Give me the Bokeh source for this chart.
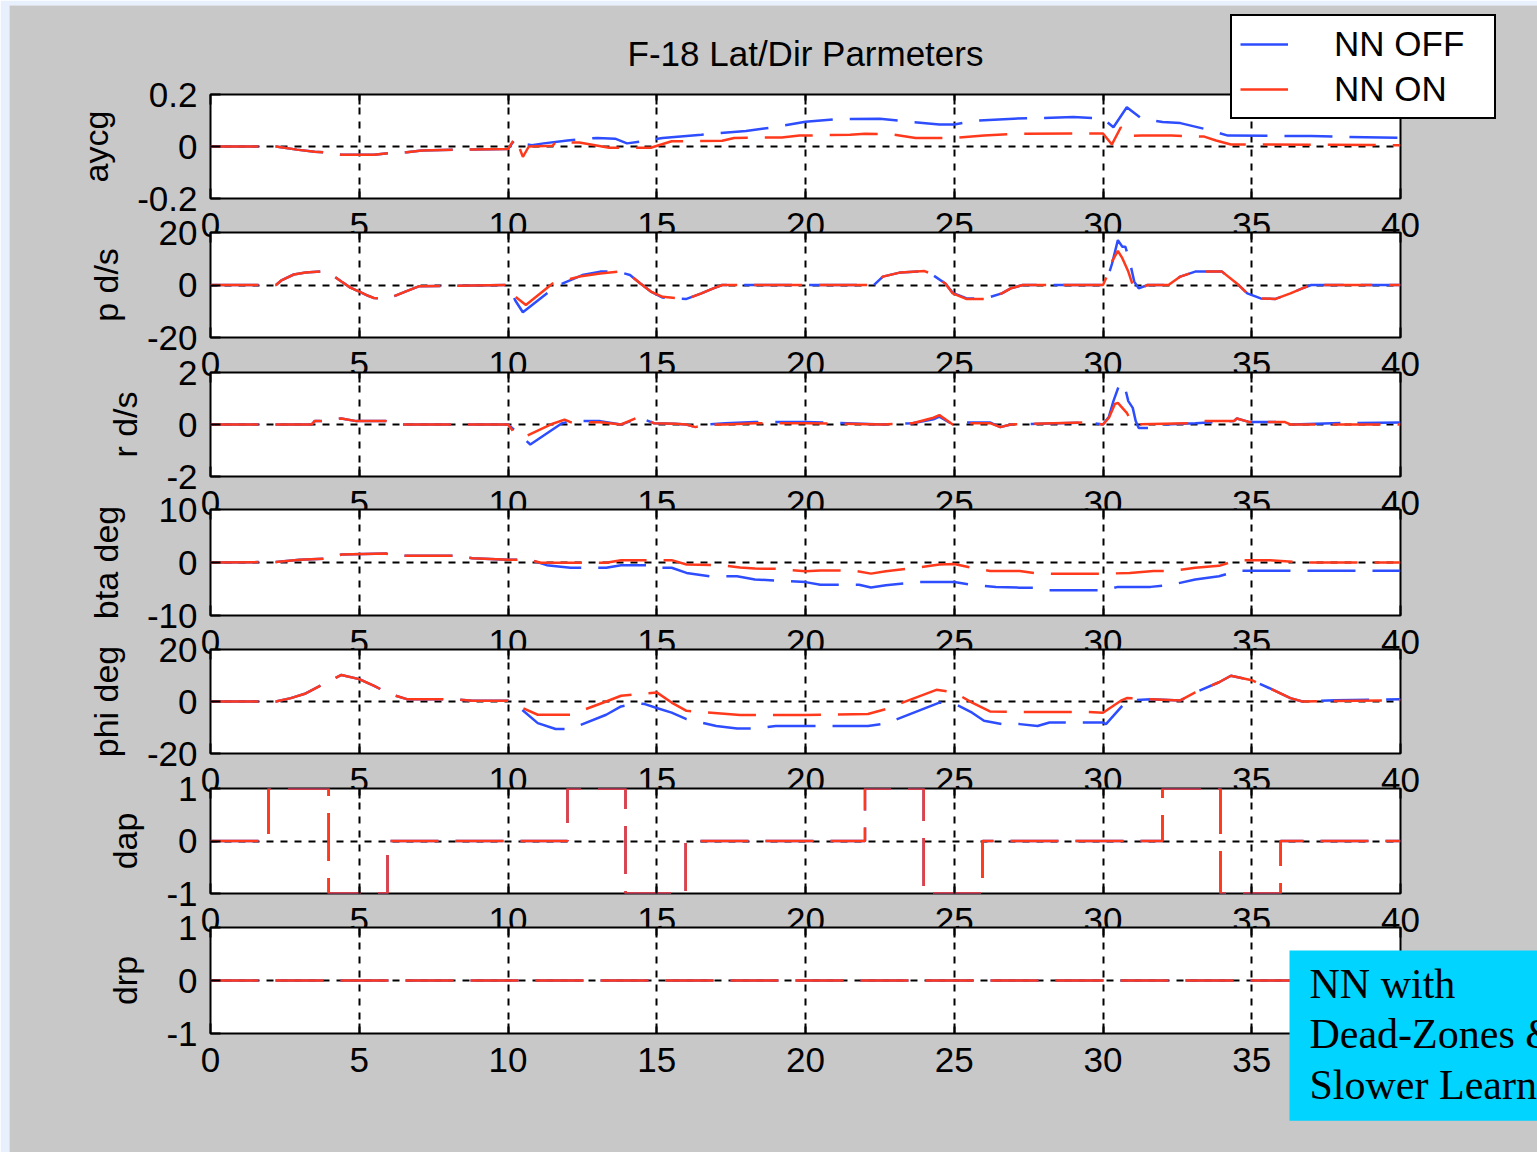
from bokeh.plotting import figure
from bokeh.models import Range1d, FixedTicker, LinearAxis, Legend, LegendItem, Label
from bokeh.layouts import column
from bokeh.embed import file_html
from bokeh.resources import INLINE

FONT = "Liberation Sans"
BLUE = "#2d4dff"
RED = "#ff3a1c"
GRAY = "#c8c8c8"
PAGE_W, PAGE_H = 1537, 1152

# ---------------- data ----------------
x_ticks = [0, 5, 10, 15, 20, 25, 30, 35, 40]
grid_ticks = [5, 10, 15, 20, 25, 30, 35]

# aycg
t_aycg_off = [0, 2.2, 2.9, 3.5, 3.8, 4.4, 5.5, 6.1, 6.6, 7.1, 8.2, 8.8, 10.0, 10.25, 10.5, 10.8, 11.2, 12.0, 13.0, 13.6, 14.0, 14.5, 15.2, 16.5, 18.0, 19.0, 20.0, 21.0, 22.5, 23.5, 24.5, 25.0, 25.8, 27.0, 29.0, 30.0, 30.35, 30.8, 31.3, 32.0, 32.6, 33.4, 34.2, 37.0, 40.0]
v_aycg_off = [0, 0, -0.012, -0.02, -0.022, -0.032, -0.032, -0.024, -0.022, -0.015, -0.012, -0.012, -0.01, 0.03, 0.01, 0.005, 0.012, 0.023, 0.033, 0.03, 0.012, 0.02, 0.033, 0.045, 0.06, 0.075, 0.095, 0.105, 0.107, 0.095, 0.085, 0.085, 0.1, 0.107, 0.113, 0.107, 0.074, 0.151, 0.107, 0.094, 0.09, 0.068, 0.042, 0.04, 0.033]
t_aycg_on = [0, 2.2, 2.9, 3.5, 3.8, 4.4, 5.5, 6.1, 6.6, 7.1, 8.2, 8.8, 10.0, 10.25, 10.5, 10.7, 11.5, 11.6, 12.4, 13.4, 14.8, 15.5, 17.2, 17.6, 19.2, 19.8, 21.5, 22.0, 22.9, 23.7, 25.0, 26.0, 27.0, 29.4, 30.0, 30.3, 30.6, 30.8, 31.3, 32.3, 33.4, 33.8, 34.3, 40.0]
v_aycg_on = [0, 0, -0.012, -0.02, -0.022, -0.032, -0.032, -0.024, -0.022, -0.015, -0.012, -0.012, -0.01, 0.036, -0.04, 0.0, 0.003, 0.017, 0.015, -0.005, -0.005, 0.02, 0.022, 0.033, 0.035, 0.042, 0.045, 0.049, 0.047, 0.033, 0.033, 0.042, 0.049, 0.05, 0.05, 0.008, 0.074, 0.04, 0.042, 0.042, 0.038, 0.023, 0.008, 0.005]

# p d/s
t_p_off = [0, 2.2, 2.4, 2.8, 3.2, 3.9, 4.4, 4.7, 5.0, 5.3, 5.5, 5.95, 6.55, 7.0, 10.0, 10.25, 10.5, 11.6, 12.5, 13.1, 13.7, 14.1, 14.45, 14.8, 15.2, 16.0, 16.5, 16.9, 17.2, 22.3, 22.6, 23.2, 24.0, 24.2, 24.7, 24.95, 25.4, 26.0, 26.6, 26.9, 27.3, 30.0, 30.15, 30.3, 30.5, 30.65, 30.75, 30.9, 31.05, 31.2, 31.5, 32.2, 32.6, 33.1, 34.0, 34.5, 34.85, 35.3, 35.8, 36.3, 36.7, 37.0, 40.0]
v_p_off = [0, 0, 1.9, 4.0, 4.8, 5.3, 1.3, -1.0, -2.5, -4.1, -5.0, -5.3, -2.5, -0.5, 0, -6.0, -10.4, -0.6, 3.8, 5.1, 5.1, 3.8, 0.6, -2.5, -4.8, -5.3, -3.2, -1.3, 0, 0, 3.2, 4.8, 5.3, 4.4, 0.6, -3.0, -5.0, -5.3, -3.2, -1.3, 0, 0, 2.5, 8.0, 17.1, 14.6, 14.6, 8.9, 1.3, -1.3, 0, 0, 3.2, 5.1, 5.1, 0.6, -3.2, -5.1, -5.3, -3.2, -1.3, 0, 0]
t_p_on = [0, 2.2, 2.4, 2.8, 3.2, 3.9, 4.4, 4.7, 5.0, 5.3, 5.5, 5.95, 6.55, 7.0, 10.0, 10.25, 10.6, 11.5, 12.4, 13.1, 13.7, 14.1, 14.45, 14.8, 15.2, 16.0, 16.5, 16.9, 17.2, 22.3, 22.6, 23.2, 24.0, 24.2, 24.7, 24.95, 25.4, 26.0, 26.6, 26.9, 27.3, 30.0, 30.15, 30.3, 30.5, 30.65, 30.85, 31.0, 31.1, 31.25, 31.5, 32.2, 32.6, 33.1, 34.0, 34.5, 34.85, 35.3, 35.8, 36.3, 36.7, 37.0, 40.0]
v_p_on = [0, 0, 1.9, 4.0, 4.8, 5.3, 1.3, -1.0, -2.5, -4.1, -5.0, -5.3, -2.5, -0.5, 0, -4.5, -7.6, 0.6, 3.2, 4.4, 5.1, 3.8, 0.6, -2.5, -4.5, -5.3, -3.2, -1.3, 0, 0, 3.2, 4.8, 5.3, 4.4, 0.6, -3.2, -5.3, -5.3, -3.2, -1.3, 0, 0, 3.8, 8.9, 13.0, 10.2, 5.1, 0, -1.9, -1.3, 0, 0, 3.2, 5.1, 5.1, 0.6, -3.2, -5.1, -5.3, -3.2, -1.3, 0, 0]

# r d/s
t_r_off = [0, 3.4, 3.5, 3.7, 4.4, 4.9, 5.9, 6.2, 10.0, 10.3, 10.75, 11.8, 12.1, 13.1, 13.8, 14.45, 14.9, 15.6, 16.0, 16.3, 16.7, 17.3, 18.3, 20.0, 22.6, 23.6, 24.3, 24.5, 24.95, 25.3, 26.2, 26.55, 26.9, 29.5, 30.0, 30.2, 30.35, 30.55, 30.7, 30.85, 31.0, 31.1, 31.2, 31.6, 32.0, 33.1, 34.4, 34.5, 34.9, 36.1, 36.3, 37.7, 40.0]
v_r_off = [0, 0, 0.13, 0.13, 0.23, 0.13, 0.13, 0, 0, -0.3, -0.77, 0.04, 0.13, 0.13, 0, 0.26, 0.05, 0.03, 0, -0.1, 0, 0.05, 0.1, 0.1, 0, 0.05, 0.2, 0.3, 0, 0.08, 0.08, -0.1, 0, 0.08, 0, 0.3, 0.9, 1.54, 1.6, 0.9, 0.64, 0.13, -0.13, -0.13, 0, 0.05, 0.13, 0.23, 0.1, 0.1, 0, 0.05, 0.08]
t_r_on = [0, 3.4, 3.5, 3.7, 4.4, 4.9, 5.9, 6.2, 10.0, 10.25, 10.6, 11.5, 11.9, 12.1, 13.1, 13.8, 14.45, 14.9, 15.6, 16.0, 16.3, 16.7, 17.3, 18.3, 20.0, 22.6, 23.6, 24.3, 24.5, 24.95, 25.3, 26.2, 26.55, 26.9, 29.5, 30.0, 30.2, 30.4, 30.5, 30.8, 31.0, 33.0, 33.1, 34.4, 34.5, 34.9, 36.1, 36.3, 40.0]
v_r_on = [0, 0, 0.13, 0.13, 0.23, 0.13, 0.13, 0, 0, -0.38, -0.45, 0.03, 0.19, 0.09, 0.09, 0, 0.32, 0.05, 0.03, 0, -0.1, 0, 0, 0.05, 0.05, 0, 0.05, 0.26, 0.36, 0, 0.05, 0.05, -0.1, 0, 0.08, 0, 0.26, 0.79, 0.83, 0.45, 0, 0.05, 0.13, 0.13, 0.23, 0.1, 0.1, 0, 0]

# bta deg
t_bta_off = [0, 2.2, 3.0, 3.9, 4.4, 5.9, 6.1, 6.6, 8.2, 8.8, 10.0, 10.7, 11.3, 12.1, 13.3, 13.8, 14.8, 15.0, 15.5, 16.0, 16.8, 17.7, 18.3, 19.0, 20.0, 20.5, 21.8, 22.2, 22.7, 23.7, 25.0, 25.6, 26.4, 27.2, 27.8, 28.2, 29.4, 30.0, 30.5, 31.6, 32.3, 33.1, 33.9, 34.5, 40.0]
v_bta_off = [0, 0.1, 0.5, 0.76, 1.5, 1.7, 1.3, 1.27, 1.27, 0.8, 0.5, 0.57, -0.5, -1.0, -1.0, -0.5, -0.5, -1.0, -1.0, -1.96, -2.6, -2.6, -3.2, -3.4, -3.7, -4.2, -4.2, -4.7, -4.3, -3.7, -3.7, -4.2, -4.6, -4.75, -4.75, -5.25, -5.25, -5.25, -4.6, -4.6, -4.2, -3.2, -2.6, -1.58, -1.58]
t_bta_on = [0, 2.2, 3.0, 3.9, 4.4, 5.9, 6.1, 6.6, 8.2, 8.8, 10.0, 10.7, 11.1, 13.3, 13.8, 15.5, 16.0, 17.2, 17.8, 18.3, 19.0, 20.0, 20.5, 21.6, 22.2, 22.7, 23.7, 24.5, 25.0, 25.6, 26.2, 27.2, 27.8, 29.4, 30.0, 30.9, 31.7, 32.3, 33.1, 33.9, 34.5, 35.6, 36.7, 40.0]
v_bta_on = [0, 0.1, 0.5, 0.76, 1.5, 1.7, 1.3, 1.27, 1.27, 0.8, 0.5, 0.57, -0.06, -0.06, 0.44, 0.44, -0.38, -0.5, -0.95, -1.14, -1.2, -1.65, -1.5, -1.5, -2.1, -1.65, -1.0, -0.38, -0.3, -1.0, -1.6, -1.6, -2.1, -2.1, -2.1, -2.0, -1.6, -1.6, -1.0, -0.63, 0.44, 0.44, 0, 0]

# phi deg
t_phi_off = [0, 2.2, 2.7, 3.2, 3.8, 4.4, 5.0, 5.5, 6.05, 6.6, 8.2, 8.8, 10.0, 10.3, 11.0, 11.6, 12.1, 13.3, 13.8, 14.4, 14.6, 15.0, 15.5, 16.0, 17.0, 17.7, 18.3, 19.0, 20.0, 22.1, 22.7, 24.5, 25.0, 25.6, 26.0, 26.6, 27.2, 27.8, 28.2, 29.4, 30.0, 30.1, 30.8, 31.6, 32.6, 33.1, 33.9, 34.3, 35.0, 35.6, 36.3, 36.7, 37.8, 40.0]
v_phi_off = [0, 0, 1.3, 3.1, 6.7, 10.2, 8.6, 6.0, 2.8, 0.9, 0.9, 0.3, 0.3, -1.5, -8.3, -10.6, -10.6, -5.1, -1.9, -0.7, -1.0, -2.5, -4.3, -6.8, -9.4, -10.4, -10.4, -9.4, -9.4, -9.4, -8.5, -0.4, -0.8, -4.3, -7.4, -8.7, -8.7, -9.4, -8.1, -8.1, -8.1, -8.7, 0.3, 0.9, 0.4, 3.5, 7.4, 9.9, 8.2, 5.1, 1.3, 0, 0.5, 0.9]
t_phi_on = [0, 2.2, 2.7, 3.2, 3.8, 4.4, 5.0, 5.5, 6.05, 6.6, 8.2, 8.8, 10.0, 10.3, 11.0, 12.1, 13.3, 13.8, 15.0, 15.5, 16.0, 17.8, 20.0, 22.1, 22.7, 24.4, 25.0, 25.6, 26.2, 27.2, 29.4, 30.0, 30.6, 30.8, 31.6, 32.6, 33.1, 33.9, 34.3, 35.0, 35.6, 36.3, 36.7, 40.0]
v_phi_on = [0, 0, 1.3, 3.1, 6.7, 10.2, 8.6, 6.0, 2.8, 0.9, 0.9, 0.3, 0.3, -1.5, -5.1, -5.1, 0, 2.2, 3.5, -0.4, -3.6, -5.2, -5.2, -4.8, -2.9, 4.5, 3.5, -0.4, -3.8, -4.0, -4.0, -4.3, 0.3, 1.3, 0.9, 0.4, 3.5, 7.4, 9.9, 8.2, 5.1, 1.3, 0, 0.5]

# dap (aileron command, both runs identical)
t_dap = [0, 1.95, 1.95, 3.97, 3.97, 5.95, 5.95, 12.0, 12.0, 13.95, 13.95, 15.97, 15.97, 22.0, 22.0, 23.97, 23.97, 25.95, 25.95, 32.0, 32.0, 33.95, 33.95, 35.97, 35.97, 40.0]
v_dap = [0, 0, 1, 1, -1, -1, 0, 0, 1, 1, -1, -1, 0, 0, 1, 1, -1, -1, 0, 0, 1, 1, -1, -1, 0, 0]

# drp (rudder command)
t_drp = [0, 40]
v_drp = [0, 0]

panels = [
    ("aycg", -0.2, 0.2, [-0.2, 0, 0.2], ["-0.2", "0", "0.2"], t_aycg_off, v_aycg_off, t_aycg_on, v_aycg_on),
    ("p d/s", -20, 20, [-20, 0, 20], ["-20", "0", "20"], t_p_off, v_p_off, t_p_on, v_p_on),
    ("r d/s", -2, 2, [-2, 0, 2], ["-2", "0", "2"], t_r_off, v_r_off, t_r_on, v_r_on),
    ("bta deg", -10, 10, [-10, 0, 10], ["-10", "0", "10"], t_bta_off, v_bta_off, t_bta_on, v_bta_on),
    ("phi deg", -20, 20, [-20, 0, 20], ["-20", "0", "20"], t_phi_off, v_phi_off, t_phi_on, v_phi_on),
    ("dap", -1, 1, [-1, 0, 1], ["-1", "0", "1"], t_dap, v_dap, t_dap, v_dap),
    ("drp", -1, 1, [-1, 0, 1], ["-1", "0", "1"], t_drp, v_drp, t_drp, v_drp),
]

# ---------------- layout geometry (page pixels) ----------------
FRAME_W = 1190
LEFT = 210
RIGHT = PAGE_W - LEFT - FRAME_W
frame_tops = [94, 232, 372, 509, 649, 788, 927]
frame_hs = [104, 105, 104, 106, 104, 105, 106]
TOP_OTHER = 40
BOTTOM = 52

children = []      # (model, absolute top y, height)


def blank(p):
    p.xaxis.visible = False
    p.yaxis.visible = False
    p.xgrid.visible = False
    p.ygrid.visible = False
    p.outline_line_color = None


# background: light-blue page edge + gray window
bg = figure(width=PAGE_W, height=PAGE_H, output_backend="svg", toolbar_location=None,
            min_border_left=9, min_border_top=5, min_border_right=0, min_border_bottom=0,
            x_range=Range1d(0, 1), y_range=Range1d(0, 1), frame_align=False)
blank(bg)
bg.border_fill_color = "#e8f0fe"
bg.background_fill_color = GRAY
children.append((bg, 0, PAGE_H))

for i, (lab, lo, hi, yt, ylabs, t_off, v_off, t_on, v_on) in enumerate(panels):
    fh = frame_hs[i]
    top = frame_tops[0] if i == 0 else TOP_OTHER
    canvas_top = frame_tops[i] - top
    if i == len(panels) - 1:
        bottom = PAGE_H - (frame_tops[i] + fh)
    else:
        bottom = BOTTOM
    h = top + fh + bottom
    p = figure(width=PAGE_W, height=h, frame_width=FRAME_W, frame_height=fh,
               x_range=Range1d(0, 40), y_range=Range1d(lo, hi),
               output_backend="svg", toolbar_location=None,
               min_border_left=LEFT, min_border_right=RIGHT,
               min_border_top=top, min_border_bottom=bottom, frame_align=False)
    p.border_fill_alpha = 0
    p.background_fill_color = "white"
    p.outline_line_color = "black"
    p.outline_line_width = 2

    xa = p.xaxis[0]
    xa.ticker = FixedTicker(ticks=x_ticks)
    xa.major_label_text_font = FONT
    xa.major_label_text_font_size = "35px"
    xa.major_label_text_color = "black"
    xa.major_label_standoff = 14
    xa.major_tick_in = 10
    xa.major_tick_out = 0
    xa.major_tick_line_width = 2
    xa.major_tick_line_color = "black"
    xa.minor_tick_line_color = None
    xa.axis_line_color = None

    ta = LinearAxis(ticker=FixedTicker(ticks=x_ticks),
                    major_label_overrides={t: "" for t in x_ticks},
                    major_label_text_font_size="1px",
                    major_label_standoff=0, major_tick_in=10, major_tick_out=0,
                    major_tick_line_width=2, major_tick_line_color="black",
                    minor_tick_line_color=None, axis_line_color=None)
    p.add_layout(ta, "above")

    ya = p.yaxis[0]
    ya.ticker = FixedTicker(ticks=yt)
    ya.major_label_overrides = {v: s for v, s in zip(yt, ylabs)}
    ya.major_label_text_font = FONT
    ya.major_label_text_font_size = "35px"
    ya.major_label_text_color = "black"
    ya.major_label_standoff = 13
    ya.major_tick_in = 10
    ya.major_tick_out = 0
    ya.major_tick_line_width = 2
    ya.major_tick_line_color = "black"
    ya.minor_tick_line_color = None
    ya.axis_line_color = None
    ya.axis_label = lab
    ya.axis_label_text_font = FONT
    ya.axis_label_text_font_size = "34px"
    ya.axis_label_text_font_style = "normal"
    ya.axis_label_text_color = "black"
    ya.axis_label_standoff = 19

    p.xgrid.ticker = FixedTicker(ticks=grid_ticks)
    p.ygrid.ticker = FixedTicker(ticks=[0])
    for g in (p.xgrid[0], p.ygrid[0]):
        g.grid_line_color = "black"
        g.grid_line_width = 2
        g.grid_line_dash = "7 7"

    p.line(t_off, v_off, line_color=BLUE, line_width=2.5, line_dash="48 17")
    p.line(t_on, v_on, line_color=RED, line_width=2.5, line_dash="48 17")

    if i == 0:
        p.title.text = "F-18 Lat/Dir Parmeters"
        p.title.align = "center"
        p.title.text_font = FONT
        p.title.text_font_size = "35px"
        p.title.text_font_style = "normal"
        p.title.text_color = "black"
        p.title.standoff = 44

    children.append((p, canvas_top, h))

# overlay: legend and the cyan note box (drawn on top of everything)
ov = figure(width=PAGE_W, height=PAGE_H, output_backend="svg", toolbar_location=None,
            min_border_left=0, min_border_top=0, min_border_right=0, min_border_bottom=0,
            x_range=Range1d(0, 40), y_range=Range1d(10, 11), frame_align=False)
blank(ov)
ov.background_fill_alpha = 0
ov.border_fill_alpha = 0
lg_off = ov.line(t_aycg_off, v_aycg_off, line_color=BLUE, line_width=2.5)
lg_on = ov.line(t_aycg_on, v_aycg_on, line_color=RED, line_width=2.5)
leg = Legend(items=[LegendItem(label="NN OFF", renderers=[lg_off]),
                    LegendItem(label="NN ON", renderers=[lg_on])],
             location=(1230, PAGE_H - 119), orientation="vertical",
             label_text_font=FONT, label_text_font_size="35px",
             label_text_color="black", glyph_width=48, glyph_height=20,
             label_standoff=46, label_width=152, padding=8, spacing=5, margin=0,
             border_line_color="black", border_line_width=2, border_line_alpha=1.0,
             background_fill_color="white", background_fill_alpha=1.0)
ov.add_layout(leg)
note = Label(x=1289, y=PAGE_H - 950, x_units="screen", y_units="screen",
             text="NN with\nDead-Zones &\nSlower Learning",
             text_font="Liberation Serif", text_font_size="42px",
             text_color="black", text_align="left", text_baseline="top",
             text_line_height=1.1,
             background_fill_color="#00d4ff", background_fill_alpha=1.0,
             padding=(20, 20, 10, 13))
ov.add_layout(note)
children.append((ov, 0, PAGE_H))

prev_end = 0
models = []
for m, y0, h in children:
    m.margin = (y0 - prev_end, 0, 0, 0)
    prev_end = y0 + h
    models.append(m)

layout = column(*models)

open("out.html", "w").write(file_html(layout, INLINE, title="F-18 Lat/Dir Parmeters"))
